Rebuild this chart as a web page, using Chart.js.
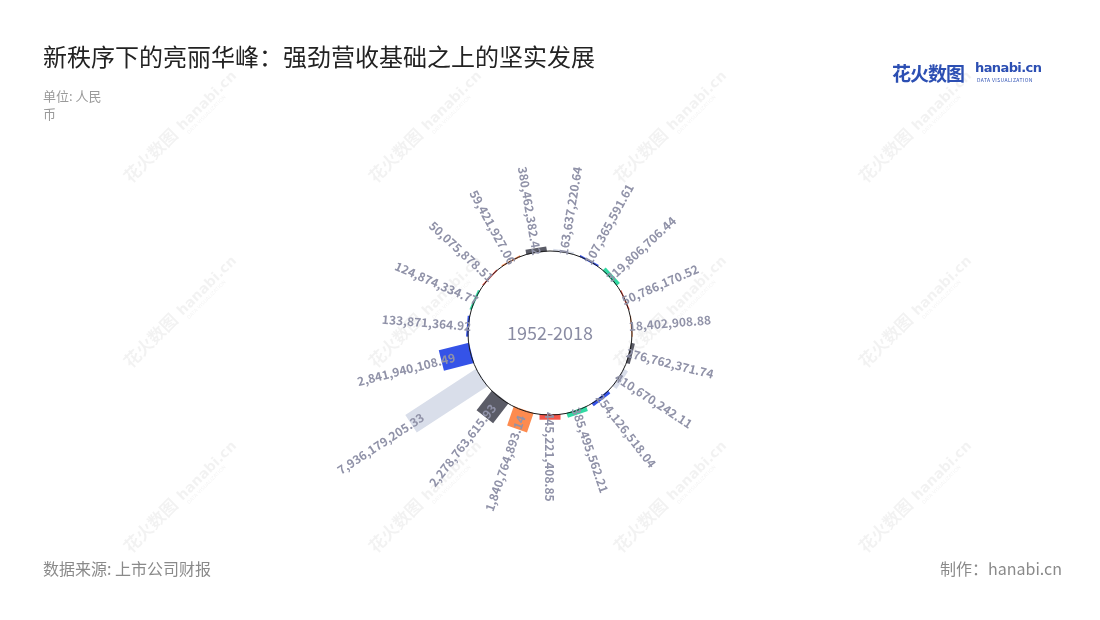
<!DOCTYPE html>
<html>
<head>
<meta charset="utf-8">
<script src="https://cdn.jsdelivr.net/npm/chart.js@4.4.1/dist/chart.umd.min.js"></script>
<style>
  body { margin: 0; background: #fff; font-family: "Noto Sans CJK SC", "Noto Sans", sans-serif; }
  #wrap { position: absolute; left: 0; top: 0; width: 1100px; height: 620px; }
  .txt { position: absolute; white-space: nowrap; }
  #title { left: 43px; top: 38px; font-size: 24px; color: #222; }
  #unit { left: 43px; top: 87px; font-size: 13px; color: #9a9a9a; line-height: 18px; }
  #source { left: 43px; top: 556px; font-size: 16px; color: #8a8a8a; }
  #maker { right: 38px; top: 556px; font-size: 16px; color: #8a8a8a; }
  #logo1 { left: 892px; top: 59px; font-size: 19px; font-weight: bold; color: #2c4fb3; letter-spacing: -1px; }
  #logo2 { left: 975px; top: 60px; font-size: 13px; font-weight: bold; color: #2c4fb3; font-family: "DejaVu Sans", sans-serif; letter-spacing: -0.6px; }
  #logo3 { left: 977px; top: 76px; font-size: 5px; color: #2c4fb3; letter-spacing: 0.4px; }
</style>
</head>
<body>
<div id="wrap"><canvas id="radialChart"></canvas></div>
<div class="txt" id="title">新秩序下的亮丽华峰：强劲营收基础之上的坚实发展</div>
<div class="txt" id="unit">单位: 人民<br>币</div>
<div class="txt" id="source">数据来源: 上市公司财报</div>
<div class="txt" id="maker">制作：hanabi.cn</div>
<div class="txt" id="logo1">花火数图</div>
<div class="txt" id="logo2">hanabi.cn</div>
<div class="txt" id="logo3">DATA VISUALIZATION</div>
<script>
// values clockwise from the top
const values = [380462382.42, 163637220.64, 107365591.61, 319806706.44, 50786170.52,
    18402908.88, 276762371.74, 410670242.11, 254126518.04, 385495562.21,
    445221408.85, 1840764893.14, 2278763615.93, 7936179205.33, 2841940108.49,
    133871364.92, 124874334.77, 50075878.51, 59421927.06];
const colors = ["#5b5c67", "#d9deea", "#3553e8", "#31d9a3", "#f5564a",
    "#fd8b4f", "#5b5c67", "#d9deea", "#3553e8", "#31d9a3",
    "#f5564a", "#fd8b4f", "#5b5c67", "#d9deea", "#3553e8",
    "#3553e8", "#31d9a3", "#f5564a", "#fd8b4f"];
const categories = values.map(v => v.toLocaleString("en-US", { minimumFractionDigits: 2, maximumFractionDigits: 2 }));
const centerText = "1952-2018";

const maxValue = Math.max(...values);

// bars drawn as straight rectangles from the zero circle
class RadialBarArc extends Chart.ArcElement {
    draw(ctx) {
        const { x, y, startAngle, endAngle, innerRadius, outerRadius } =
            this.getProps(["x", "y", "startAngle", "endAngle", "innerRadius", "outerRadius"]);
        const len = outerRadius - innerRadius;
        if (len <= 0) return;
        const w = this.options.barWidth;
        ctx.save();
        ctx.translate(x, y);
        ctx.rotate((startAngle + endAngle) / 2);
        ctx.fillStyle = this.options.backgroundColor;
        ctx.fillRect(innerRadius - 1, -w / 2, len + 1, w);
        ctx.restore();
    }
}
RadialBarArc.id = "radialBarArc";
RadialBarArc.defaults = { barWidth: 21 };

class RadialBarController extends Chart.PolarAreaController {
    updateElements(arcs, start, count, mode) {
        super.updateElements(arcs, start, count, mode);
        const base = this._cachedMeta.rScale.getDistanceFromCenterForValue(0);
        for (let i = start; i < start + count; i++) {
            arcs[i].innerRadius = base;
        }
    }
}
RadialBarController.id = "radialBar";
RadialBarController.defaults = { dataElementType: "radialBarArc" };

Chart.register(RadialBarArc, RadialBarController);

const watermark = {
    id: "watermark",
    beforeDraw(chart) {
        const ctx = chart.ctx;
        ctx.save();
        ctx.fillStyle = "rgba(0,0,0,0.05)";
        ctx.textBaseline = "alphabetic";
        [131, 376, 621, 866].forEach(x0 => {
            [184, 369, 554].forEach(y0 => {
                ctx.save();
                ctx.translate(x0, y0);
                ctx.rotate(-Math.PI / 4);
                ctx.font = "bold 17px 'Noto Sans CJK SC'";
                ctx.fillText("花火数图", 0, 0);
                const w = ctx.measureText("花火数图").width;
                ctx.font = "bold 14px 'DejaVu Sans'";
                ctx.fillText("hanabi.cn", w + 6, -1);
                ctx.font = "5px 'DejaVu Sans'";
                ctx.fillText("DATA VISUALIZATION", w + 8, 6);
                ctx.restore();
            });
        });
        ctx.restore();
    }
};

const ringLabels = {
    id: "ringLabels",
    afterDatasetsDraw(chart) {
        const ctx = chart.ctx;
        const scale = chart.scales.r;
        const cx = scale.xCenter, cy = scale.yCenter;
        const base = scale.getDistanceFromCenterForValue(0);

        ctx.save();
        ctx.strokeStyle = "#1a1a1a";
        ctx.lineWidth = 1;
        ctx.beginPath();
        ctx.arc(cx, cy, base, 0, Math.PI * 2);
        ctx.stroke();

        ctx.fillStyle = "#8a8ca3";
        ctx.font = "18px 'Noto Sans CJK SC'";
        ctx.textAlign = "center";
        ctx.textBaseline = "middle";
        ctx.fillText(centerText, cx, cy);

        ctx.fillStyle = "#9092a8";
        ctx.font = "bold 12px 'Noto Sans CJK SC'";
        chart.getDatasetMeta(0).data.forEach((arc, i) => {
            const a = (arc.startAngle + arc.endAngle) / 2;
            const r = Math.max(arc.outerRadius - 14, base - 3);
            ctx.save();
            ctx.translate(cx, cy);
            let ang = ((a % (2 * Math.PI)) + 2 * Math.PI) % (2 * Math.PI);
            if (ang > Math.PI / 2 && ang < Math.PI * 1.5) {
                ctx.rotate(ang + Math.PI);
                ctx.textAlign = "right";
                ctx.fillText(categories[i], -r, 0);
            } else {
                ctx.rotate(ang);
                ctx.textAlign = "left";
                ctx.fillText(categories[i], r, 0);
            }
            ctx.restore();
        });
        ctx.restore();
    }
};

new Chart(document.getElementById("radialChart"), {
    type: "radialBar",
    data: {
        labels: categories,
        datasets: [{
            data: values,
            backgroundColor: colors,
            borderWidth: 0
        }]
    },
    options: {
        responsive: true,
        maintainAspectRatio: false,
        animation: false,
        layout: { padding: { left: 384, right: 384, top: 167, bottom: 121 } },
        plugins: { legend: { display: false }, tooltip: { enabled: false } },
        scales: {
            r: {
                startAngle: -360 / values.length,
                min: -maxValue * 82 / 84,
                max: maxValue,
                ticks: { display: false },
                grid: { display: false },
                angleLines: { display: false },
                pointLabels: { display: false }
            }
        }
    },
    plugins: [watermark, ringLabels]
});
</script>
</body>
</html>
